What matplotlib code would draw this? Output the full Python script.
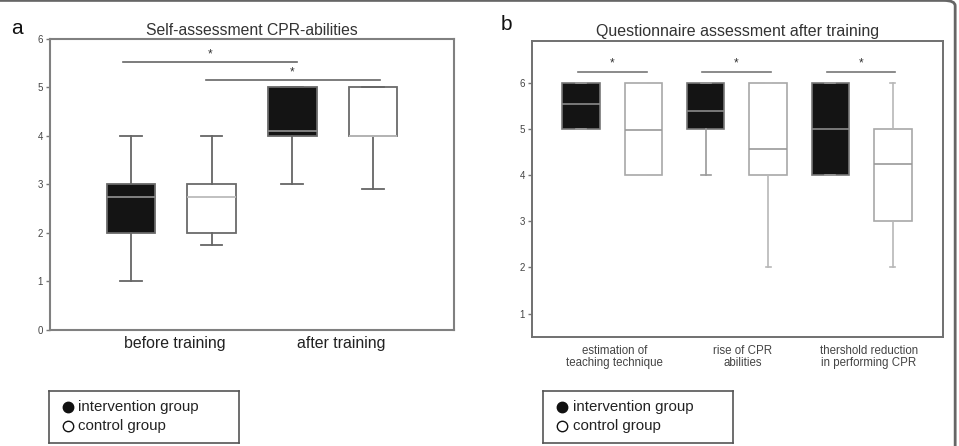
import matplotlib
matplotlib.use("Agg")
import matplotlib.pyplot as plt
from matplotlib.patches import FancyBboxPatch

plt.rcParams['font.family'] = ['Liberation Sans', 'DejaVu Sans']

# panel a: self-assessment (box stats per time point)
a_groups = ["before training", "after training"]
a_int_low = [1.0, 3.0]
a_int_q1 = [2.0, 4.0]
a_int_med = [2.75, 4.1]
a_int_q3 = [3.0, 5.0]
a_int_high = [4.0, 5.0]
a_ctl_low = [1.75, 2.9]
a_ctl_q1 = [2.0, 4.0]
a_ctl_med = [2.75, 4.0]
a_ctl_q3 = [3.0, 5.0]
a_ctl_high = [4.0, 5.0]

# panel b: questionnaire after training
b_groups = ["estimation of\nteaching technique", "rise of CPR\nabilities",
            "thershold reduction\nin performing CPR"]
b_int_low = [5.0, 4.0, 4.0]
b_int_q1 = [5.0, 5.0, 4.0]
b_int_med = [5.55, 5.4, 5.0]
b_int_q3 = [6.0, 6.0, 6.0]
b_int_high = [6.0, 6.0, 6.0]
b_ctl_low = [4.0, 2.0, 2.0]
b_ctl_q1 = [4.0, 4.0, 3.0]
b_ctl_med = [4.97, 4.57, 4.25]
b_ctl_q3 = [6.0, 6.0, 5.0]
b_ctl_high = [6.0, 6.0, 6.0]

legend_labels = ["intervention group", "control group"]


def box_stats(lo, q1, med, q3, hi):
    return [dict(whislo=a, q1=b, med=c, q3=d, whishi=e, fliers=[])
            for a, b, c, d, e in zip(lo, q1, med, q3, hi)]


fig = plt.figure(figsize=(9.59, 4.46), dpi=100)

# outer frame of the image
fig.patches.append(FancyBboxPatch((-0.02, -0.05), 1.016, 1.049,
                                  boxstyle="round,pad=0,rounding_size=0.012",
                                  transform=fig.transFigure, fill=False,
                                  edgecolor="#666666", lw=2.0))

# ---------------- panel a ----------------
ax1 = fig.add_axes([0.0521, 0.2601, 0.4213, 0.6525])
ax1.bxp(box_stats(a_int_low, a_int_q1, a_int_med, a_int_q3, a_int_high),
        positions=[1, 3], widths=0.6, capwidths=0.27, patch_artist=True,
        showfliers=False,
        boxprops=dict(facecolor="#141414", edgecolor="#6a6a6a", lw=1.3),
        medianprops=dict(color="#8a8a8a", lw=1.3),
        whiskerprops=dict(color="#666666", lw=1.3),
        capprops=dict(color="#666666", lw=1.3))
ax1.bxp(box_stats(a_ctl_low, a_ctl_q1, a_ctl_med, a_ctl_q3, a_ctl_high),
        positions=[2, 4], widths=0.6, capwidths=0.27, patch_artist=True,
        showfliers=False,
        boxprops=dict(facecolor="white", edgecolor="#6a6a6a", lw=1.3),
        medianprops=dict(color="#bbbbbb", lw=1.3),
        whiskerprops=dict(color="#666666", lw=1.3),
        capprops=dict(color="#666666", lw=1.3))
ax1.set_xlim(0, 5)
ax1.set_ylim(0, 6)
ax1.set_yticks(range(0, 7))
ax1.set_xticks([1.55, 3.6])
ax1.set_xticklabels(a_groups, fontsize=11.4, color="#222222")
ax1.tick_params(axis="x", length=0, pad=4)
ax1.tick_params(axis="y", length=3, width=1, color="#777777",
                labelsize=7, labelcolor="#444444", pad=2)
for sp in ax1.spines.values():
    sp.set_color("#808080")
    sp.set_linewidth(1.5)
ax1.set_title("Self-assessment CPR-abilities", fontsize=11.3,
              color="#333333", pad=3)

# significance brackets
ax1.plot([0.9, 3.06], [5.53, 5.53], color="#666666", lw=1.2)
ax1.text(1.98, 5.68, "*", ha="center", va="center", fontsize=8.5, color="#333333")
ax1.plot([1.93, 4.09], [5.16, 5.16], color="#666666", lw=1.2)
ax1.text(3.0, 5.32, "*", ha="center", va="center", fontsize=8.5, color="#333333")

# ---------------- panel b ----------------
ax2 = fig.add_axes([0.5544, 0.2451, 0.4286, 0.6623])
ax2.bxp(box_stats(b_int_low, b_int_q1, b_int_med, b_int_q3, b_int_high),
        positions=[1, 3, 5], widths=0.6, capwidths=0.16, patch_artist=True,
        showfliers=False,
        boxprops=dict(facecolor="#141414", edgecolor="#777777", lw=1.2),
        medianprops=dict(color="#8a8a8a", lw=1.2),
        whiskerprops=dict(color="#9a9a9a", lw=1.2),
        capprops=dict(color="#9a9a9a", lw=1.2))
ax2.bxp(box_stats(b_ctl_low, b_ctl_q1, b_ctl_med, b_ctl_q3, b_ctl_high),
        positions=[2, 4, 6], widths=0.6, capwidths=0.08, patch_artist=True,
        showfliers=False,
        boxprops=dict(facecolor="white", edgecolor="#a8a8a8", lw=1.2),
        medianprops=dict(color="#999999", lw=1.2),
        whiskerprops=dict(color="#b8b8b8", lw=1.2),
        capprops=dict(color="#b8b8b8", lw=1.2))
ax2.set_xlim(0.21, 6.8)
ax2.set_ylim(0.5, 6.9)
ax2.set_yticks(range(1, 7))
ax2.set_xticks([1.54, 3.59, 5.62])
ax2.set_xticklabels(b_groups, fontsize=8.3, color="#444444", linespacing=1.05)
ax2.tick_params(axis="x", length=0, pad=6)
ax2.tick_params(axis="y", length=3, width=1, color="#777777",
                labelsize=7, labelcolor="#444444", pad=2)
for sp in ax2.spines.values():
    sp.set_color("#707070")
    sp.set_linewidth(1.4)
ax2.set_title("Questionnaire assessment after training", fontsize=11.5,
              color="#333333", pad=4)

for x0, x1 in [(0.95, 2.06), (2.94, 4.04), (4.94, 6.04)]:
    ax2.plot([x0, x1], [6.24, 6.24], color="#777777", lw=1.2)
    ax2.text((x0 + x1) / 2, 6.42, "*", ha="center", va="center",
             fontsize=8.5, color="#333333")

# panel letters
fig.text(0.012, 1 - 29 / 446, "a", fontsize=15, va="center", color="#111111")
fig.text(0.522, 1 - 25 / 446, "b", fontsize=15, va="center", color="#111111")

# legend boxes
for left in [0.0511, 0.5665]:
    lg = fig.add_axes([left, 0.0067, 0.198, 0.1173])
    lg.set_xlim(0, 1)
    lg.set_ylim(0, 1)
    lg.set_xticks([])
    lg.set_yticks([])
    for sp in lg.spines.values():
        sp.set_color("#555555")
        sp.set_linewidth(1.2)
    lg.plot([0.098], [0.694], "o", ms=7.5, color="#111111")
    lg.plot([0.098], [0.33], "o", ms=7.5, mfc="white", mec="#111111", mew=1.0)
    lg.text(0.155, 0.694, legend_labels[0], fontsize=10.8, va="center",
            color="#222222")
    lg.text(0.155, 0.33, legend_labels[1], fontsize=10.8, va="center",
            color="#222222")

fig.savefig("out.png", dpi=100)
